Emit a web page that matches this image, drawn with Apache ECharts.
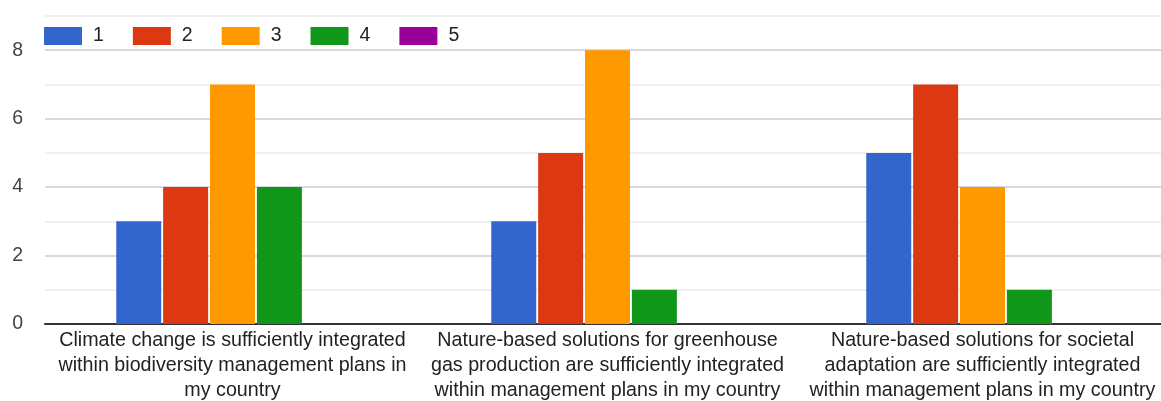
<!DOCTYPE html>
<html>
<head>
<meta charset="utf-8">
<script src="https://cdn.jsdelivr.net/npm/echarts@6/dist/echarts.min.js"></script>
<style>
  html, body { margin: 0; padding: 0; background: #fff; overflow: hidden; }
  #chart { width: 1161px; height: 401px; }
</style>
</head>
<body>
<div id="chart"></div>
<script>
// Survey statements (x categories), wrapped onto three lines each
const categories = [
  'Climate change is sufficiently integrated\nwithin biodiversity management plans in\nmy country',
  'Nature-based solutions for greenhouse\ngas production are sufficiently integrated\nwithin management plans in my country',
  'Nature-based solutions for societal\nadaptation are sufficiently integrated\nwithin management plans in my country'
];

// Number of responses per rating (1..5)
const rating1 = [3, 3, 5];
const rating2 = [4, 5, 7];
const rating3 = [7, 8, 4];
const rating4 = [4, 1, 1];
const rating5 = [0, 0, 0];

const seriesNames = ['1', '2', '3', '4', '5'];
const seriesValues = [rating1, rating2, rating3, rating4, rating5];
const colors = ['#3366cc', '#dc3912', '#ff9900', '#109618', '#990099'];

const FONT = '"Liberation Sans", Arial, sans-serif';

const chart = echarts.init(document.getElementById('chart'), null, { renderer: 'canvas' });

chart.setOption({
  animation: false,
  color: colors,
  // plot runs slightly past the right edge of the canvas
  grid: { left: 45, right: -9, top: 16, bottom: 77, containLabel: false, outerBoundsMode: 'none' },
  legend: {
    left: 44,
    top: 26,
    padding: 0,
    itemWidth: 38,
    itemHeight: 18,
    itemGap: 29,
    icon: 'rect',
    data: seriesNames,
    textStyle: { fontFamily: FONT, fontSize: 19.5, color: '#222', padding: [0, 0, 0, 6] }
  },
  xAxis: {
    type: 'category',
    data: categories,
    axisLine: { show: true, lineStyle: { color: '#333', width: 2 } },
    axisTick: { show: false },
    axisLabel: {
      interval: 0,
      margin: 4,
      fontFamily: FONT,
      fontSize: 19.7,
      lineHeight: 25,
      color: '#222',
      align: 'center'
    }
  },
  yAxis: {
    type: 'value',
    min: 0,
    max: 9,
    interval: 1,
    axisLine: { show: false },
    axisTick: { show: false },
    axisLabel: {
      margin: 22,
      fontFamily: FONT,
      fontSize: 19.5,
      color: '#444',
      formatter: v => (v % 2 === 0 ? String(v) : '')
    },
    splitLine: { lineStyle: { color: ['#cccccc', '#ebebeb'], width: 1.5 } }
  },
  series: seriesNames.map((name, i) => ({
    name,
    type: 'bar',
    data: seriesValues[i],
    barGap: '4.2%',
    barCategoryGap: '38%',
    itemStyle: { color: colors[i] }
  }))
});
</script>
</body>
</html>
